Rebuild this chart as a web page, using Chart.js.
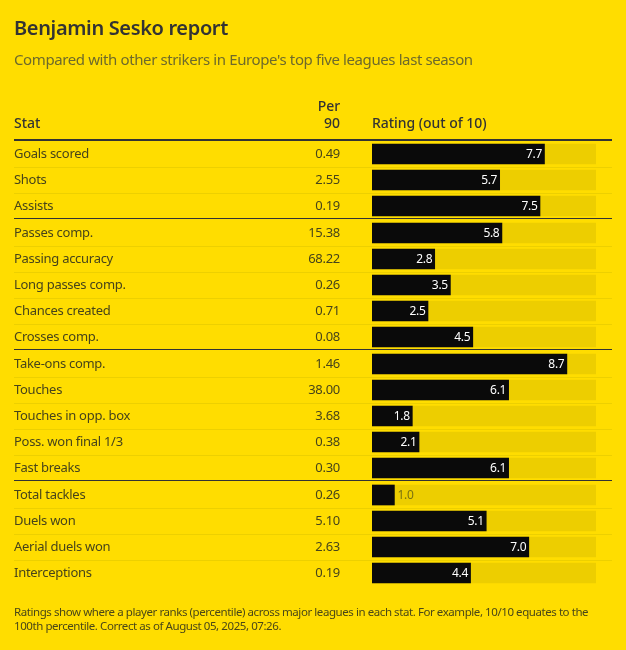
<!DOCTYPE html>
<html>
<head>
<meta charset="utf-8">
<title>Benjamin Sesko report</title>
<script src="https://cdn.jsdelivr.net/npm/chart.js@4"></script>
<style>
  html, body { margin: 0; padding: 0; background: #ffdd00; }
  body { width: 626px; height: 650px; position: relative; overflow: hidden; font-family: "Noto Sans", sans-serif; }
  #chart_wrap { position: absolute; left: 0; top: 0; width: 626px; height: 650px; }
  .txt { position: absolute; left: 14px; margin: 0; white-space: nowrap; }
  #title { top: 14px; font-size: 20px; font-weight: 600; color: #333; line-height: 28px; letter-spacing: -0.35px; }
  #sub { top: 48px; font-size: 15px; font-weight: 400; color: #6e6a2b; line-height: 22px; letter-spacing: -0.39px; }
  #note { top: 605px; font-size: 11.5px; color: #4a4717; line-height: 14px; white-space: normal; width: 600px; letter-spacing: -0.43px; }
</style>
</head>
<body>
<div id="chart_wrap"><canvas id="chart_report" width="626" height="650"></canvas></div>
<p class="txt" id="title">Benjamin Sesko report</p>
<p class="txt" id="sub">Compared with other strikers in Europe's top five leagues last season</p>
<p class="txt" id="note">Ratings show where a player ranks (percentile) across major leagues in each stat. For example, 10/10 equates to the 100th percentile. Correct as of August 05, 2025, 07:26.</p>
<script>
const stats = [
  "Goals scored", "Shots", "Assists",
  "Passes comp.", "Passing accuracy", "Long passes comp.", "Chances created", "Crosses comp.",
  "Take-ons comp.", "Touches", "Touches in opp. box", "Poss. won final 1/3", "Fast breaks",
  "Total tackles", "Duels won", "Aerial duels won", "Interceptions",
];
const per90 = [
  "0.49", "2.55", "0.19",
  "15.38", "68.22", "0.26", "0.71", "0.08",
  "1.46", "38.00", "3.68", "0.38", "0.30",
  "0.26", "5.10", "2.63", "0.19",
];
const ratings = [
  7.7, 5.7, 7.5,
  5.8, 2.8, 3.5, 2.5, 4.5,
  8.7, 6.1, 1.8, 2.1, 6.1,
  1.0, 5.1, 7.0, 4.4,
];
const groupSizes = [3, 5, 5, 4];
const maxRating = 10;

// one extra px between groups, so rows sit on a linear y scale
const rowH = 26;
const groups = groupSizes.flatMap((n, g) => Array(n).fill(g));
const rowPos = groups.map((g, i) => i + g / rowH);
const lastPos = rowPos[rowPos.length - 1];

const INK = "#47441a";
const TEXT_FONT = '13px "Noto Sans", sans-serif';

const tablePlugin = {
  id: "tablePlugin",
  afterDatasetsDraw(chart) {
    const { ctx, scales } = chart;
    const y = scales.y;
    const bars = chart.getDatasetMeta(1).data;
    const left = 14, right = 612, numRight = 340;

    ctx.save();

    // header
    ctx.fillStyle = "#333";
    ctx.font = '500 14px "Noto Sans", sans-serif';
    ctx.letterSpacing = "-0.05px";
    ctx.textBaseline = "middle";
    ctx.textAlign = "left";
    ctx.fillText("Stat", left, 124.5);
    ctx.fillText("Rating (out of 10)", 372, 124.5);
    ctx.textAlign = "right";
    ctx.fillText("Per", numRight, 107.5);
    ctx.fillText("90", numRight, 124.5);

    ctx.fillStyle = "#333";
    ctx.fillRect(left, 139, right - left, 2);

    stats.forEach((name, i) => {
      const py = Math.round(y.getPixelForValue(rowPos[i]));

      ctx.font = TEXT_FONT;
      ctx.letterSpacing = "-0.28px";
      ctx.textBaseline = "middle";
      ctx.fillStyle = INK;
      ctx.textAlign = "left";
      ctx.fillText(name, left, py + 0.5);
      ctx.textAlign = "right";
      ctx.fillText(per90[i], numRight, py + 0.5);

      // value label, inside the bar unless it is too short
      const barX = bars[i].x;
      ctx.font = '12px "Noto Sans", sans-serif';
      ctx.letterSpacing = "-0.3px";
      if (ratings[i] >= 1.5) {
        ctx.fillStyle = "#fff";
        ctx.textAlign = "right";
        ctx.fillText(ratings[i].toFixed(1), barX - 2.5, py + 0.5);
      } else {
        ctx.fillStyle = "#7a7210";
        ctx.textAlign = "left";
        ctx.fillText(ratings[i].toFixed(1), barX + 3, py + 0.5);
      }

      // row separators
      if (i < stats.length - 1) {
        const endOfGroup = groups[i] !== groups[i + 1];
        ctx.fillStyle = endOfGroup ? "#333" : "#edd000";
        ctx.fillRect(left, py + (endOfGroup ? 12 : 13), right - left, 1);
      }
    });

    ctx.restore();
  },
};

new Chart(document.getElementById("chart_report"), {
  type: "bar",
  data: {
    datasets: [
      {
        label: "Scale",
        data: rowPos.map((p) => ({ x: maxRating, y: p })),
        backgroundColor: "#edce00",
        barThickness: 20,
        grouped: false,
        order: 2,
      },
      {
        label: "Rating",
        data: rowPos.map((p, i) => ({ x: ratings[i], y: p })),
        backgroundColor: "#0a0a0a",
        barThickness: 20,
        grouped: false,
        order: 1,
      },
    ],
  },
  options: {
    indexAxis: "y",
    responsive: false,
    animation: false,
    layout: { padding: { left: 372, right: 30, top: 141, bottom: 64 } },
    plugins: { legend: { display: false }, tooltip: { enabled: false } },
    scales: {
      x: { type: "linear", min: 0, max: maxRating, display: false },
      y: { type: "linear", min: -0.5, max: lastPos + 0.5, reverse: true, display: false, offset: false },
    },
  },
  plugins: [tablePlugin],
});
</script>
</body>
</html>
